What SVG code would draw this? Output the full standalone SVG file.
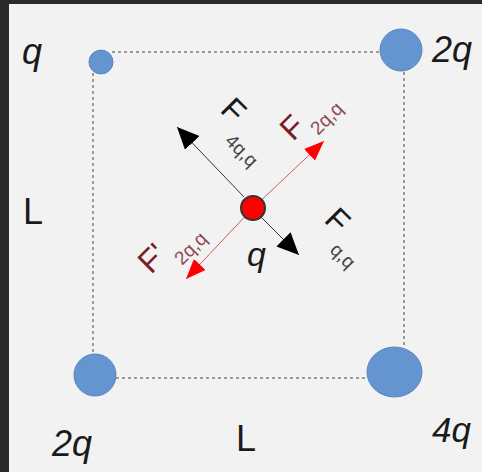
<svg xmlns="http://www.w3.org/2000/svg" width="482" height="472" viewBox="0 0 482 472">
<defs>
<style>
.lbl{font-family:"Liberation Sans",Arial,sans-serif;fill:#1a1a1a}
.it{font-style:italic}
.dash{stroke:#444;stroke-width:1;stroke-dasharray:3 3;fill:none}
.charge{fill:#6495d0;stroke:#5a86bd;stroke-width:1}
.fb{font-family:"Liberation Sans",Arial,sans-serif;fill:#1a1a1a}
.fr{font-family:"Liberation Sans",Arial,sans-serif;fill:#7a1c28}
.subr{fill:#8a4850}
.subb{fill:#444}
</style>
<marker id="ahB" viewBox="0 0 22 20" refX="22" refY="10" markerWidth="22" markerHeight="20" markerUnits="userSpaceOnUse" orient="auto">
<path d="M0,0 L22,10 L0,20 z" fill="#000"/>
</marker>
<marker id="ahR" viewBox="0 0 20 16" refX="20" refY="8" markerWidth="20" markerHeight="16" markerUnits="userSpaceOnUse" orient="auto">
<path d="M0,0 L20,8 L0,16 z" fill="#ff0000"/>
</marker>
</defs>
<rect x="0" y="0" width="482" height="472" fill="#2b2b2b"/>
<rect x="9" y="4" width="473" height="468" fill="#f2f2f2"/>

<g id="connectors">
<line class="dash" x1="112" y1="52" x2="381" y2="52"/>
<line class="dash" x1="93" y1="73" x2="93" y2="355"/>
<line class="dash" x1="404" y1="72" x2="404" y2="348"/>
<line class="dash" x1="116" y1="378" x2="367" y2="378"/>
<line x1="244" y1="197" x2="177" y2="127" stroke="#333" stroke-width="1" marker-end="url(#ahB)"/>
<line x1="262" y1="218" x2="299" y2="255" stroke="#333" stroke-width="1" marker-end="url(#ahB)"/>
<line x1="253" y1="208" x2="324" y2="141" stroke="#d05a5a" stroke-width="1" marker-end="url(#ahR)"/>
<line x1="253" y1="208" x2="186" y2="279" stroke="#d05a5a" stroke-width="1" marker-end="url(#ahR)"/>
</g>

<g id="charge-q">
<circle class="charge" cx="101" cy="62" r="12"/>
<text class="lbl it" x="22" y="64" font-size="36">q</text>
</g>
<g id="charge-2q-top">
<circle class="charge" cx="401" cy="50" r="21"/>
<text class="lbl it" x="432" y="62" font-size="36">2q</text>
</g>
<g id="charge-2q-bottom">
<ellipse class="charge" cx="95" cy="375" rx="21" ry="21"/>
<text class="lbl it" x="52" y="456" font-size="36">2q</text>
</g>
<g id="charge-4q">
<ellipse class="charge" cx="394.5" cy="372" rx="27.5" ry="25"/>
<text class="lbl it" x="432" y="442" font-size="35">4q</text>
</g>
<g id="label-L-left">
<text class="lbl" x="23" y="224" font-size="36">L</text>
</g>
<g id="label-L-bottom">
<text class="lbl" x="236" y="451" font-size="36">L</text>
</g>

<g id="center-charge">
<circle cx="253" cy="208" r="12" fill="#ff0000" stroke="#333" stroke-width="2"/>
<text class="lbl it" x="247" y="266" font-size="34">q</text>
</g>

<g id="label-F4qq">
<text class="fb" font-size="32" transform="translate(219,111) rotate(45)">F</text>
<text class="fb subb" font-size="19" transform="translate(224,142) rotate(45)">4q,q</text>
</g>
<g id="label-F2qq">
<text class="fr" font-size="32" transform="translate(293,142) rotate(-45)">F</text>
<text class="fr subr" font-size="19" transform="translate(318,136) rotate(-45)">2q,q</text>
</g>
<g id="label-F2qq-prime">
<text class="fr" font-size="32" transform="translate(151,275) rotate(-45)">F'</text>
<text class="fr subr" font-size="19" transform="translate(182,266) rotate(-45)">2q,q</text>
</g>
<g id="label-Fqq">
<text class="fb" font-size="32" transform="translate(323,221) rotate(45)">F</text>
<text class="fb subb" font-size="19" transform="translate(329,251) rotate(45)">q,q</text>
</g>
</svg>
